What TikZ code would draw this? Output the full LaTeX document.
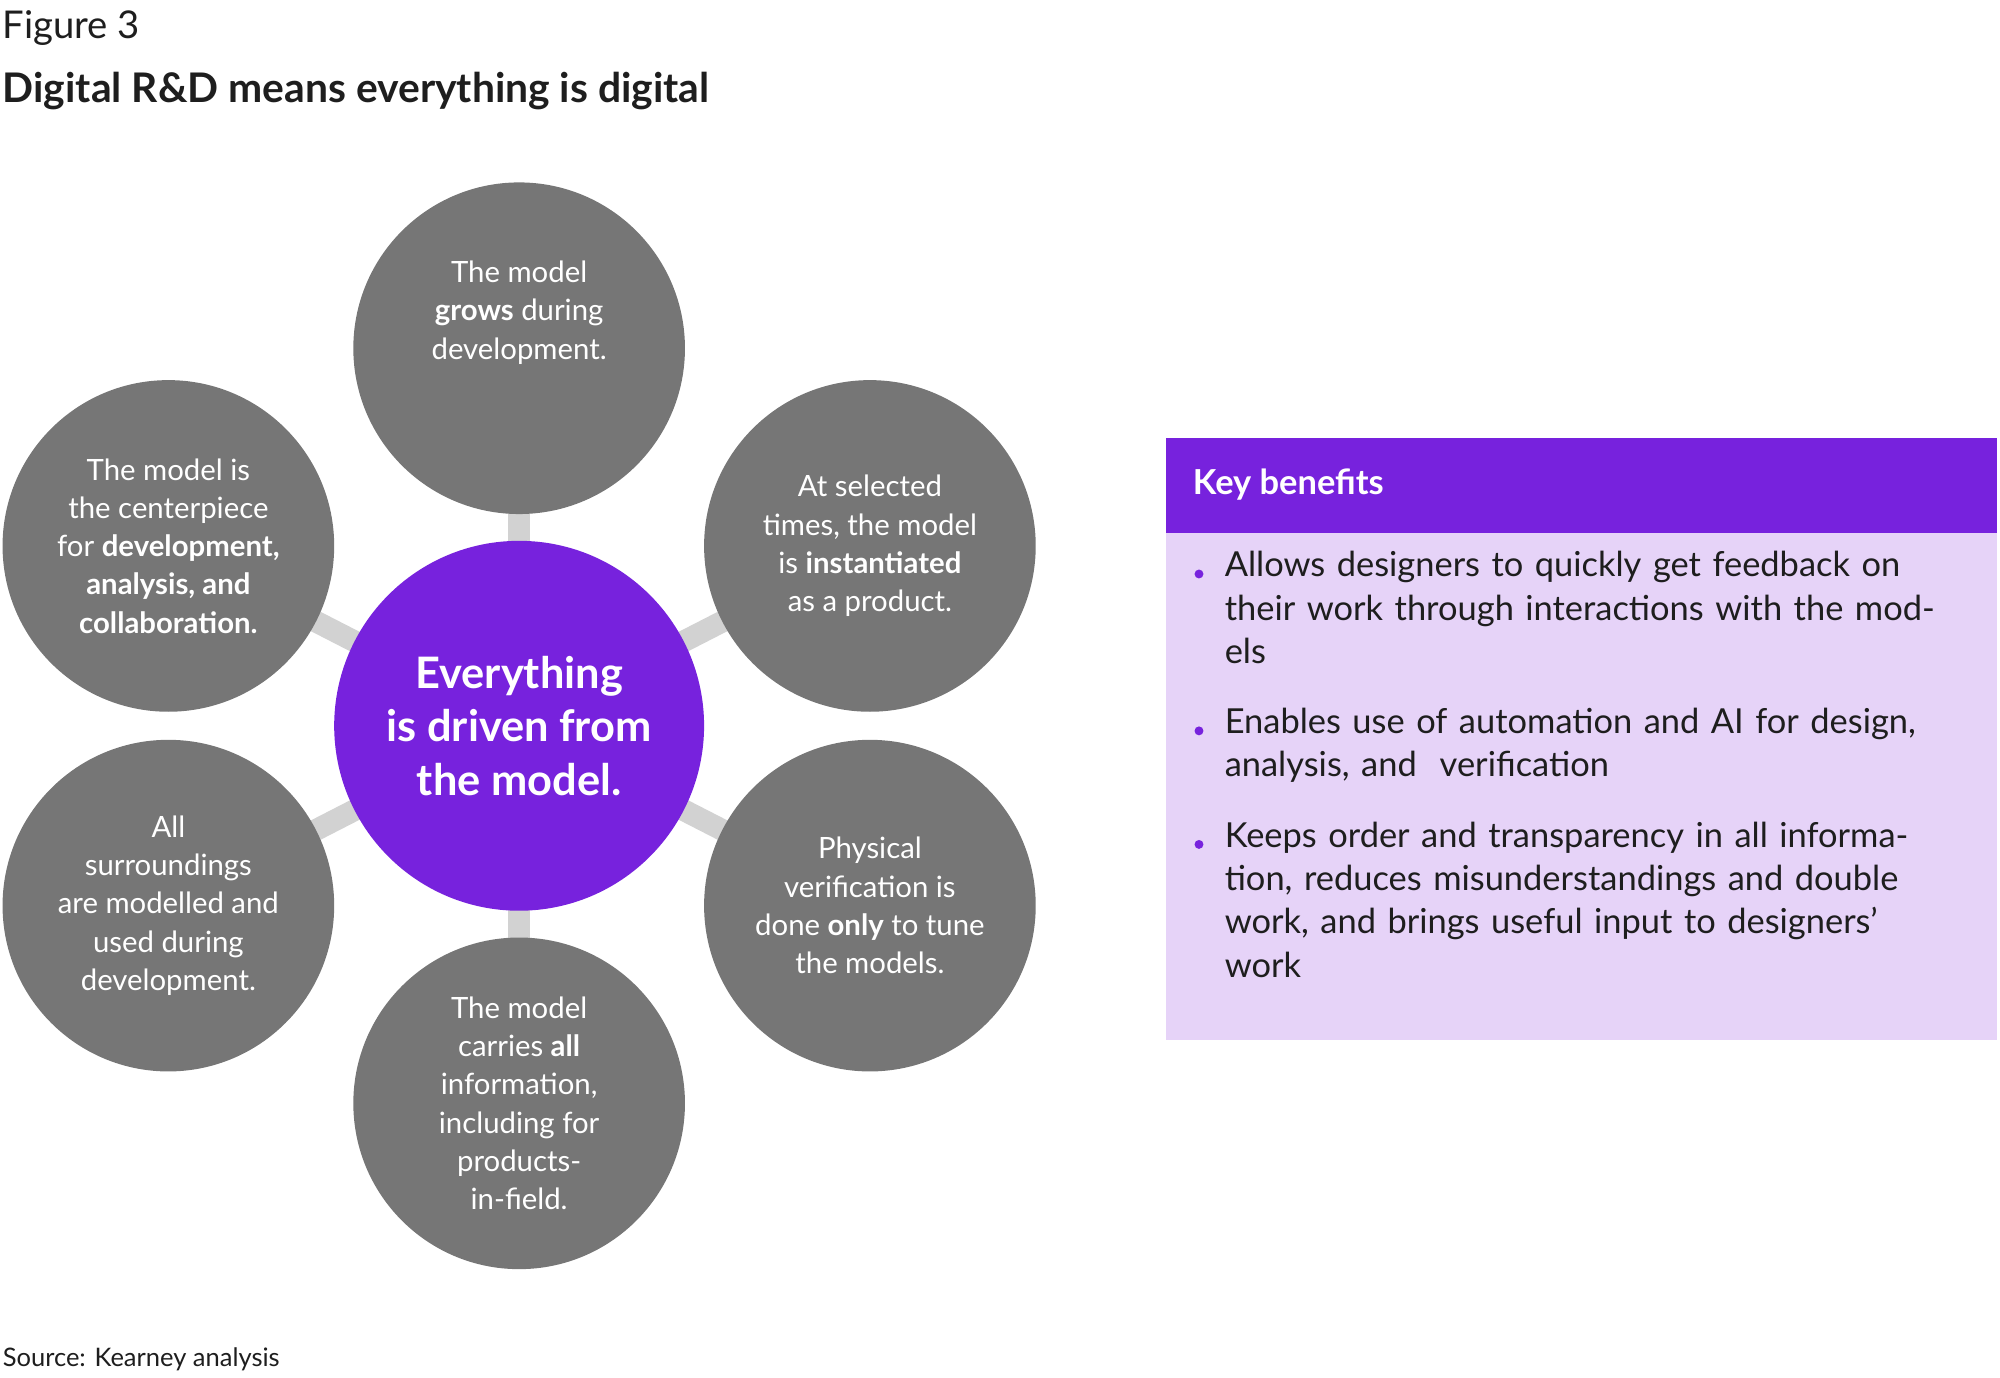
\documentclass[tikz,border=0pt]{standalone}
\usepackage{fontspec}
\setmainfont{Lato}
\definecolor{cgray}{HTML}{767676}
\definecolor{lgray}{HTML}{D2D2D2}
\definecolor{kpurple}{HTML}{7722DD}
\definecolor{lav}{HTML}{E6D3F8}
\definecolor{ink}{HTML}{1E1E1E}
\begin{document}
\begin{tikzpicture}[x=1pt,y=-1pt,
  outer/.style={circle,fill=cgray,minimum size=260pt,inner sep=0pt,text=white,align=center,font=\fontsize{23}{30}\selectfont},
  center/.style={circle,fill=kpurple,minimum size=290pt,inner sep=0pt,text=white,align=center,font=\fontsize{34}{42}\selectfont\bfseries},
  conn/.style={draw=lgray,line width=17pt},
  btxt/.style={anchor=north west,align=left,text width=560pt,inner sep=0pt,font=\fontsize{27}{34}\selectfont,text=ink},
  dot/.style={circle,fill=kpurple,inner sep=0pt,minimum size=7pt}]
\useasboundingbox (0,0) rectangle (1568,1080);
\node[anchor=west,inner sep=0pt,font=\fontsize{30}{36}\selectfont,text=ink] (fig) at (2,22) {Figure 3};
\node[anchor=west,inner sep=0pt,font=\fontsize{32}{38}\selectfont\bfseries,text=ink] (title) at (2,71) {Digital R\&D means everything is digital};
\node[anchor=west,inner sep=0pt,font=\fontsize{20}{24}\selectfont,text=ink] (src) at (2,1066) {Source: Kearney analysis};
\coordinate (c) at (407,569);
\foreach \p in {(407,273),(132,428),(682,428),(132,710),(682,710),(407,865)}
  \draw[conn] (c) -- \p;
\node[outer] (t) at (407,273) {The model\\\textbf{grows} during\\development.\\[30pt]};
\node[outer] (ul) at (132,428) {The model is\\the centerpiece\\for \textbf{development,}\\\textbf{analysis, and}\\\textbf{collaboration.}};
\node[outer] (ur) at (682,428) {At selected\\times, the model\\is \textbf{instantiated}\\as a product.};
\node[outer] (ll) at (132,710) {All\\surroundings\\are modelled and\\used during\\development.};
\node[outer] (lr) at (682,710) {Physical\\verification is\\done \textbf{only} to tune\\the models.};
\node[outer] (b) at (407,865) {The model\\carries \textbf{all}\\information,\\including for\\products-\\in-field.};
\node[center] (m) at (c) {Everything\\is driven from\\the model.};
\fill[lav] (914,418) rectangle (1566,815);
\fill[kpurple] (914,343) rectangle (1566,418);
\node[anchor=west,inner sep=0pt,text=white,font=\fontsize{27}{32}\selectfont\bfseries] (kb) at (935,380) {Key benefits};
\node[dot] (d1) at (940,450) {};
\node[btxt] (b1) at (960,432) {Allows designers to quickly get feedback on their work through interactions with the models};
\node[dot] (d2) at (940,573) {};
\node[btxt] (b2) at (960,555) {Enables use of automation and AI for design, analysis, and\ \ verification};
\node[dot] (d3) at (940,662) {};
\node[btxt] (b3) at (960,644) {Keeps order and transparency in all information, reduces misunderstandings and double work, and brings useful input to designers’ work};
\end{tikzpicture}
\end{document}
